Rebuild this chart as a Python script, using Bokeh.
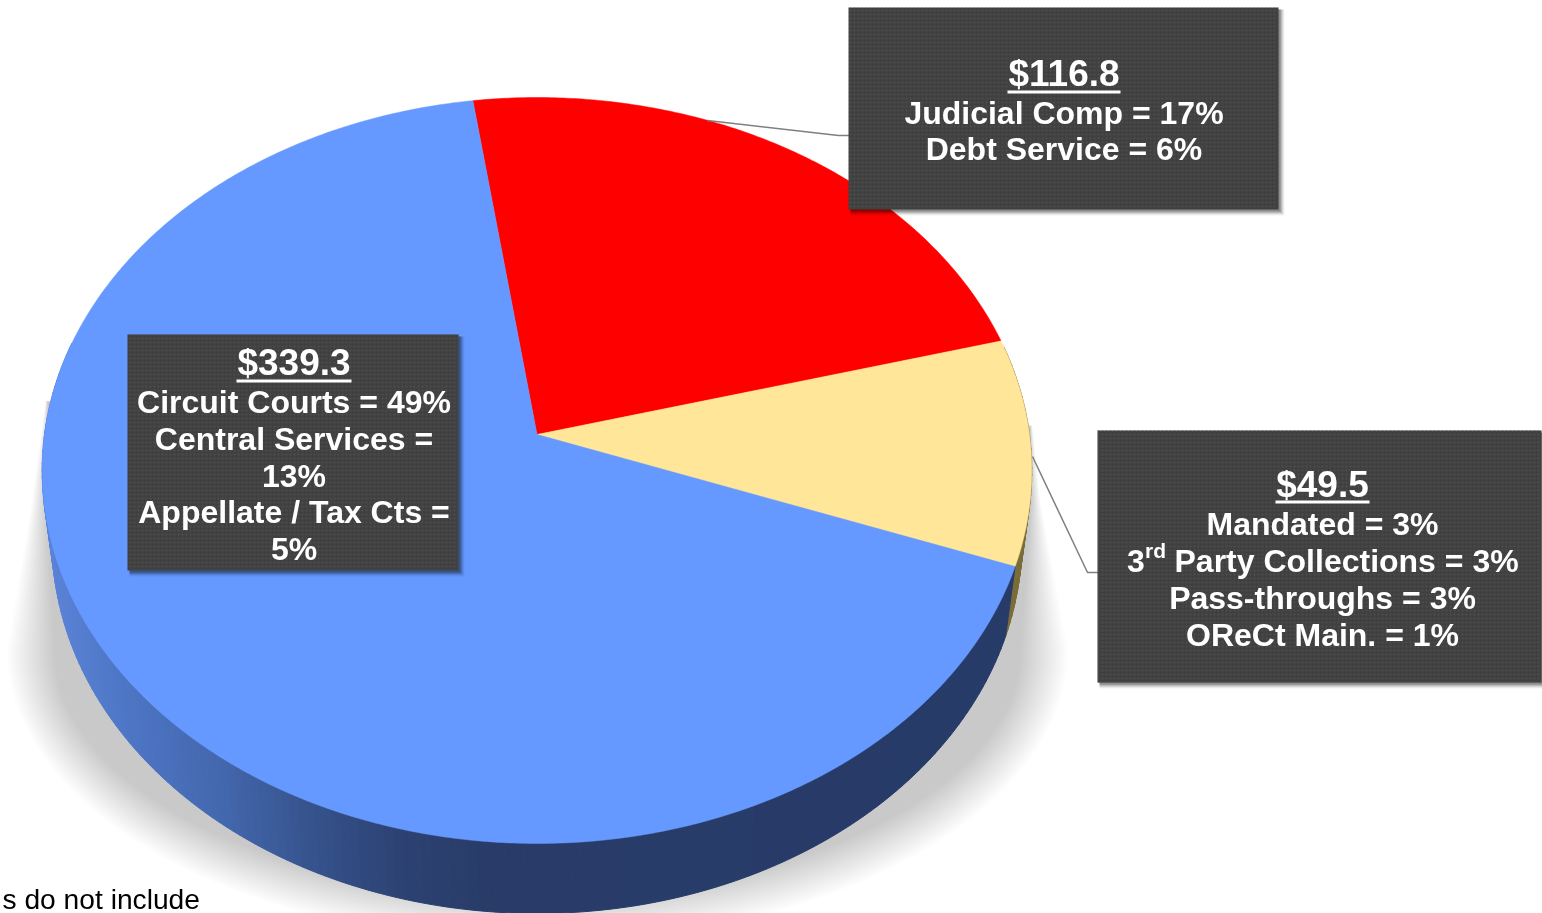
import numpy as np
from bokeh.plotting import figure
from bokeh.models import Range1d
from bokeh.core.properties import value
from bokeh.embed import file_html
from bokeh.resources import INLINE

# ---- data ----
slice_names = ["Judicial / Debt", "Mandated / Other", "Courts / Services"]
slice_values = [116.8, 49.5, 339.3]
slice_colors = ["#FF0000", "#FFE699", "#6699FF"]
wall_colors = ["#800000", "#7A6D3A", None]
box1_lines = ["$116.8", "Judicial Comp = 17%", "Debt Service = 6%"]
box2_lines = ["$339.3", "Circuit Courts = 49%", "Central Services =", "13%", "Appellate / Tax Cts =", "5%"]
box3_lines = ["$49.5", "Mandated = 3%", "Pass-throughs = 3%", "OReCt Main. = 1%"]
footnote = "s do not include"

# ---- projection of the tilted disc to screen pixels ----
CX, CY, A, B1, K = 536.5, 434.0, 492.5, 369.5, 0.0965
START_DEG = 98.2
DEPTH = 70.0
FONT = value("Liberation Sans")


def top(theta):
    u, v = np.cos(theta), np.sin(theta)
    w = 1.0 / (1.0 + K * v)
    return CX + A * u * w, CY - B1 * v * w


def bottom(theta):
    x, y = top(theta)
    return 536 + (x - 536) * 0.98, y + DEPTH


def lerp_hex(stops, x):
    xs = [s[0] for s in stops]
    rgb = [np.interp(x, xs, [int(s[1][i:i + 2], 16) for s in stops]) for i in (1, 3, 5)]
    return "#%02x%02x%02x" % tuple(int(round(c)) for c in rgb)


WALL_STOPS = [(50, "#5A83D8"), (130, "#4D75C4"), (220, "#4468AE"), (300, "#375590"),
              (400, "#2C4272"), (480, "#293C69"), (1020, "#273B68")]

p = figure(width=1542, height=913, output_backend="svg", toolbar_location=None,
           x_range=Range1d(0, 1542), y_range=Range1d(913, 0), min_border=0,
           outline_line_color=None, background_fill_color="white")
p.axis.visible = False
p.grid.visible = False
p.styles = {"position": "fixed", "left": "0px", "top": "0px"}

# soft shadow behind the disc
n_layers = 18
for i in range(n_layers):
    d = 46.0 * (1 - i / (n_layers - 1))
    t = np.radians(np.linspace(180, 360, 90))
    ex = 537 + (530 - d) * np.cos(t)
    ey = 650 - (292 - d) * np.sin(t)
    sx = [130.0, 45.0 + d * 0.05, 30.0 + d * 0.35] + list(ex) + [1040 - d * 0.2, 1032 - d * 0.05, 950.0]
    sy = [420.0, 400.0, 510.0] + list(ey) + [500.0, 425.0, 420.0]
    p.patch(sx, sy, fill_color="#000000", fill_alpha=0.0105, line_color=None)

# slice boundaries
total = sum(slice_values)
edges = [np.radians(START_DEG)]
for val in slice_values:
    edges.append(edges[-1] - 2 * np.pi * val / total)

# side wall
wx, wy, wc = [], [], []
for i in range(len(slice_values)):
    n = max(int(abs(edges[i + 1] - edges[i]) / np.radians(1.0)), 2)
    ts = np.linspace(edges[i], edges[i + 1], n + 1)
    for t0, t1 in zip(ts[:-1], ts[1:]):
        if np.sin((t0 + t1) / 2) > 0.25:
            continue
        x0, y0 = top(t0)
        x1, y1 = top(t1)
        x2, y2 = bottom(t1)
        x3, y3 = bottom(t0)
        wx.append([x0, x1, x2, x3])
        wy.append([y0, y1, y2, y3])
        mx = (x0 + x1 + x2 + x3) / 4
        wc.append(wall_colors[i] if wall_colors[i] else lerp_hex(WALL_STOPS, mx))
p.patches(wx, wy, fill_color=wc, line_color=wc, line_width=1)

# top surface
for i, col in enumerate(slice_colors):
    n = max(int(abs(edges[i + 1] - edges[i]) / np.radians(0.5)), 2)
    ts = np.linspace(edges[i], edges[i + 1], n + 1)
    ax, ay = top(ts)
    p.patch([CX] + list(ax), [CY] + list(ay), fill_color=col, line_color=col, line_width=0.5)

# leader lines
p.line([707, 838, 849], [120, 135, 135], line_color="#7F7F7F", line_width=1.5)
p.line([1032, 1087, 1098], [456, 572, 572], line_color="#7F7F7F", line_width=1.5)


def draw_box(x0, x1, y0, y1):
    x0, x1, y0, y1 = x0 - 1, x1 - 1, y0 - 1, y1 - 1
    for s, al in ((6, 0.05), (5, 0.07), (4, 0.1), (3, 0.14), (2, 0.18)):
        p.quad(left=x0 + 2, right=x1 + s, top=y0 + 2, bottom=y1 + s,
               fill_color="black", fill_alpha=al, line_color=None)
    p.quad(left=x0, right=x1, top=y0, bottom=y1, fill_color="#404040", line_color=None,
           hatch_pattern="dot", hatch_color="#4E4E4E", hatch_scale=4, hatch_alpha=1.0)


def draw_text(x, y, txt, size=32, align="center", style="bold", color="white"):
    p.text([x], [y], text=[txt], text_font=FONT, text_font_size=f"{size}px",
           text_font_style=style, text_color=color, text_align=align,
           text_baseline="alphabetic")


def underline(x0, x1, y):
    p.quad(left=x0, right=x1, top=y, bottom=y + 3, fill_color="white", line_color=None)


BOLD_SHIFT = -13

# box 1
draw_box(849, 1279, 8, 210)
draw_text(1063.5, 86 + BOLD_SHIFT, box1_lines[0], size=37)
underline(1007, 1120, 90)
for txt, y in zip(box1_lines[1:], [125, 161]):
    draw_text(1063.5, y + BOLD_SHIFT, txt)

# box 2
draw_box(128, 459, 335, 571)
draw_text(293.5, 375 + BOLD_SHIFT, box2_lines[0], size=37)
underline(236, 351, 379)
for txt, y in zip(box2_lines[1:], [414, 451, 488, 524, 561]):
    draw_text(293.5, y + BOLD_SHIFT, txt)

# box 3
draw_box(1098, 1542, 431, 683)
draw_text(1322, 497 + BOLD_SHIFT, box3_lines[0], size=37)
underline(1275, 1369, 500)
draw_text(1322, 536 + BOLD_SHIFT, box3_lines[1])
draw_text(1126.5, 573 + BOLD_SHIFT, "3", align="left")
draw_text(1144.5, 563 + BOLD_SHIFT, "rd", size=21, align="left")
draw_text(1174, 573 + BOLD_SHIFT, "Party Collections = 3%", align="left")
draw_text(1322, 610 + BOLD_SHIFT, box3_lines[2])
draw_text(1322, 647 + BOLD_SHIFT, box3_lines[3])

# footnote
draw_text(2, 898, footnote, size=28.2, align="left", style="normal", color="black")

open("out.html", "w").write(file_html(p, INLINE))
